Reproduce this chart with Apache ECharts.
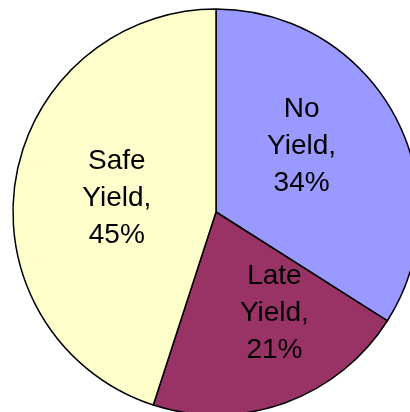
<!DOCTYPE html>
<html>
<head>
<meta charset="utf-8">
<script src="https://cdn.jsdelivr.net/npm/echarts@6/dist/echarts.min.js"></script>
<style>
  html, body { margin: 0; padding: 0; background: #fff; }
  #myChart { width: 410px; height: 412px; }
</style>
</head>
<body>
<div id="myChart"></div>
<script>
// slices, clockwise from 12 o'clock
var names = ['No\nYield', 'Late\nYield', 'Safe\nYield'];
var values = [34, 21, 45];
var colors = ['#9999FF', '#993366', '#FFFFCC'];
// nudges so the text sits where the original put it
var labelOffsets = [[-6, -15], [23, 3], [4, 3]];

var pieData = names.map(function (n, i) {
    return {
        name: n,
        value: values[i],
        itemStyle: { color: colors[i] },
        label: { offset: labelOffsets[i] }
    };
});

var option = {
    animation: false,
    series: [
        {
            type: 'pie',
            center: [216, 212],
            radius: 203,
            startAngle: 90,
            clockwise: true,
            avoidLabelOverlap: false,
            itemStyle: {
                borderColor: '#000',
                borderWidth: 1.5
            },
            label: {
                show: true,
                position: 'inside',
                color: '#000',
                fontFamily: 'Liberation Sans, Arial, sans-serif',
                fontSize: 28,
                lineHeight: 37,
                formatter: function (p) { return p.name + ',\n' + p.value + '%'; }
            },
            labelLine: { show: false },
            emphasis: { disabled: true },
            data: pieData
        }
    ]
};
var myChart = echarts.init(document.getElementById('myChart'));
myChart.setOption(option);
</script>
</body>
</html>
